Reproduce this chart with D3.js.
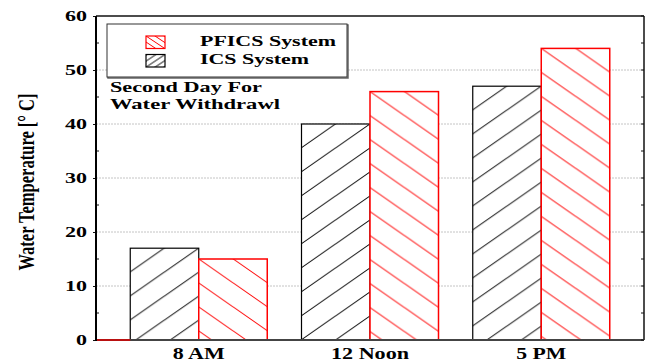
<!DOCTYPE html>
<html>
<head>
<meta charset="utf-8">
<script src="https://cdn.jsdelivr.net/npm/d3@7"></script>
<style>
  html, body { margin: 0; padding: 0; background: #fff; }
  svg { display: block; }
  text { font-family: "Liberation Serif", "Times New Roman", serif; font-weight: bold; fill: #000; }
</style>
</head>
<body>
<svg id="chart" width="645" height="363"></svg>
<script>
// Water temperature by time of day, second day of withdrawal
const categories = ["8 AM", "12 Noon", "5 PM"];
const icsValues = [17, 40, 47];
const pficsValues = [15, 46, 54];
const yTickValues = [0, 10, 20, 30, 40, 50, 60];
const yMinorValues = [5, 15, 25, 35, 45, 55];
const seriesKeys = ["ICS", "PFICS"];
const legendLabels = ["PFICS System", "ICS System"];
const noteLines = ["Second Day For", "Water Withdrawl"];
const yTitle = "Water Temperature [\u00B0 C]";

(function () {
const svg = d3.select("#chart");
const plotLeft = 96, plotRight = 644, plotTop = 16, plotBottom = 340;

const x = d3.scaleBand().domain(categories).range([plotLeft, plotRight])
  .paddingInner(0.2).paddingOuter(0.2);
const xs = d3.scaleBand().domain(seriesKeys).range([0, x.bandwidth()]);
const y = d3.scaleLinear().domain([0, 60]).range([plotBottom, plotTop]);

const colors = { ICS: "#000", PFICS: "#ff0000" };
const hatchW = 34.5, hatchH = 24;

const rows = [];
categories.forEach((c, i) => {
  rows.push({ cat: c, key: "ICS", value: icsValues[i], i });
  rows.push({ cat: c, key: "PFICS", value: pficsValues[i], i });
});

const defs = svg.append("defs");

// hatch path for a tile of size w x h; "/" for ICS, "\" for PFICS
function hatchPath(dir, w, h) {
  if (dir === "up") {
    return `M${-w},${h}L${w},${-h}M0,${h}L${w},0M0,${2*h}L${2*w},0`;
  }
  return `M0,0L${w},${h}M${-w},0L${w},${2*h}M0,${-h}L${2*w},${h}`;
}

function addPattern(id, key, ox, oy, w, h, sw) {
  const p = defs.append("pattern").attr("id", id)
    .attr("patternUnits", "userSpaceOnUse")
    .attr("x", ox).attr("y", oy).attr("width", w).attr("height", h);
  p.append("rect").attr("width", w).attr("height", h).attr("fill", "#fff");
  p.append("path").attr("d", hatchPath(key === "ICS" ? "up" : "down", w, h))
    .attr("stroke", colors[key]).attr("stroke-width", sw).attr("fill", "none");
}

// gridlines
svg.append("g").selectAll("line").data(yTickValues.filter(v => v > 0 && v < 60))
  .join("line")
  .attr("x1", plotLeft).attr("x2", plotRight)
  .attr("y1", d => y(d)).attr("y2", d => y(d))
  .attr("stroke", "#c4c4c4").attr("stroke-width", 1).attr("stroke-dasharray", "2,1");

// bars
rows.forEach((r, k) => {
  const bx = x(r.cat) + xs(r.key);
  const by = y(r.value);
  const ox = r.key === "ICS" ? bx + xs.bandwidth() : bx;
  addPattern("hatch" + k, r.key, ox, by, hatchW, hatchH, 1);
  r.bx = bx; r.by = by; r.pid = "hatch" + k;
});

svg.append("g").selectAll("rect")
  .data(rows.filter(r => r.key === "ICS").concat(rows.filter(r => r.key === "PFICS")))
  .join("rect")
  .attr("x", d => d.bx).attr("y", d => d.by)
  .attr("width", xs.bandwidth()).attr("height", d => y(0) - d.by)
  .attr("fill", d => `url(#${d.pid})`)
  .attr("stroke", d => colors[d.key])
  .attr("stroke-width", d => d.key === "ICS" ? 1.2 : 1.5);

// frame
svg.append("line").attr("x1", plotLeft).attr("x2", plotRight).attr("y1", plotTop).attr("y2", plotTop)
  .attr("stroke", "#111").attr("stroke-width", 1.5);
svg.append("line").attr("x1", plotRight).attr("x2", plotRight).attr("y1", plotTop).attr("y2", plotBottom)
  .attr("stroke", "#111").attr("stroke-width", 1.5);
svg.append("line").attr("x1", plotLeft).attr("x2", plotRight).attr("y1", plotBottom).attr("y2", plotBottom)
  .attr("stroke", "#444").attr("stroke-width", 2);
svg.append("line").attr("x1", plotLeft).attr("x2", x(categories[0])).attr("y1", plotBottom).attr("y2", plotBottom)
  .attr("stroke", "#e00000").attr("stroke-width", 1.5);

// right-side inward ticks
svg.append("g").selectAll("line").data(yTickValues.concat(yMinorValues))
  .join("line")
  .attr("x1", plotRight - 3).attr("x2", plotRight)
  .attr("y1", d => y(d)).attr("y2", d => y(d))
  .attr("stroke", "#111").attr("stroke-width", 1);

// left axis
const yAxis = svg.append("g").attr("transform", `translate(${plotLeft},0)`)
  .call(d3.axisLeft(y).tickValues(yTickValues).tickSize(3).tickPadding(6));
yAxis.select(".domain").remove();
yAxis.selectAll(".tick line").attr("stroke", "#111");
yAxis.selectAll(".tick text")
  .attr("font-size", 14)
  .attr("font-family", "Liberation Serif, serif")
  .attr("font-weight", "bold")
  .attr("fill", "#000")
  .attr("textLength", d => String(d).length * 11)
  .attr("lengthAdjust", "spacingAndGlyphs");
svg.append("g").selectAll("line").data(yMinorValues)
  .join("line")
  .attr("x1", plotLeft).attr("x2", plotLeft + 3)
  .attr("y1", d => y(d)).attr("y2", d => y(d))
  .attr("stroke", "#111").attr("stroke-width", 1);
svg.append("line").attr("x1", plotLeft).attr("x2", plotLeft).attr("y1", plotTop).attr("y2", plotBottom + 1)
  .attr("stroke", "#000").attr("stroke-width", 2);

// x labels
const xLabelWidths = { "8 AM": 52, "12 Noon": 78, "5 PM": 50 };
svg.append("g").selectAll("text").data(categories)
  .join("text")
  .attr("x", d => x(d) + x.bandwidth() / 2)
  .attr("y", 359)
  .attr("text-anchor", "middle")
  .attr("font-size", 16)
  .attr("textLength", d => xLabelWidths[d])
  .attr("lengthAdjust", "spacingAndGlyphs")
  .text(d => d);

// y title
svg.append("text")
  .attr("transform", `translate(34,${(plotTop + plotBottom) / 2 + 4}) scale(1.45,1) rotate(-90)`)
  .attr("text-anchor", "middle")
  .attr("font-size", 16)
  .attr("textLength", 177)
  .attr("lengthAdjust", "spacingAndGlyphs")
  .text(yTitle);

// legend
const lg = svg.append("g");
lg.append("rect").attr("x", 108).attr("y", 25).attr("width", 240).attr("height", 53)
  .attr("fill", "none").attr("stroke", "#666").attr("stroke-width", 1.5);
lg.append("rect").attr("x", 107).attr("y", 24).attr("width", 240).attr("height", 53)
  .attr("fill", "#fff").attr("stroke", "#333").attr("stroke-width", 1);

const legendKeys = ["PFICS", "ICS"];
legendKeys.forEach((key, i) => {
  const sx = 146, sy = 36 + i * 18.5;
  addPattern("legendHatch" + i, key, key === "ICS" ? sx + 19 : sx, sy, 9, 6, 1);
  lg.append("rect").attr("x", sx).attr("y", sy).attr("width", 19).attr("height", 12.5)
    .attr("fill", `url(#legendHatch${i})`)
    .attr("stroke", colors[key]).attr("stroke-width", 1.2);
  lg.append("text").attr("x", 200).attr("y", 46 + i * 18.3)
    .attr("font-size", 15.5)
    .attr("textLength", i === 0 ? 136 : 109)
    .attr("lengthAdjust", "spacingAndGlyphs")
    .text(legendLabels[i]);
});

// annotation
svg.append("g").selectAll("text").data(noteLines)
  .join("text")
  .attr("x", 110)
  .attr("y", (d, i) => 92 + i * 16.5)
  .attr("font-size", 15.5)
  .attr("textLength", (d, i) => i === 0 ? 152 : 170)
  .attr("lengthAdjust", "spacingAndGlyphs")
  .text(d => d);
})();
</script>
</body>
</html>
